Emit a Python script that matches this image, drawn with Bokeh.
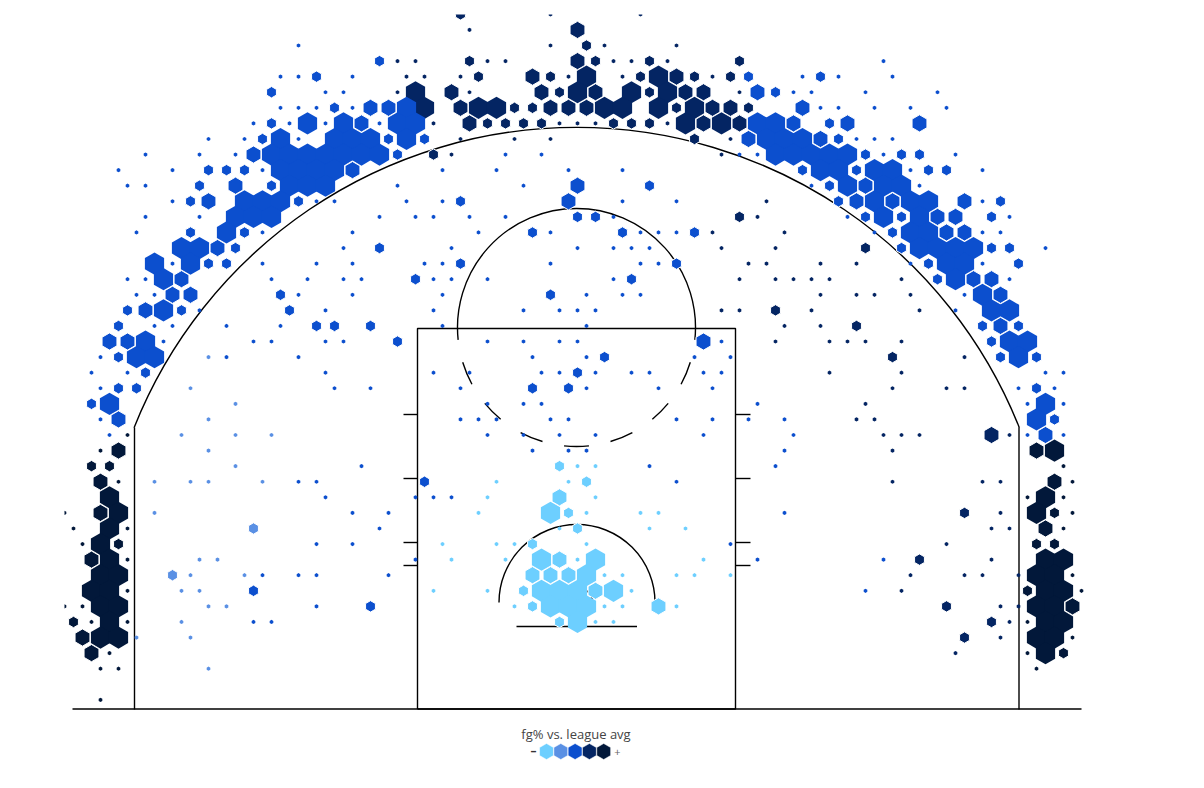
import math
from bokeh.plotting import figure
from bokeh.models import ColumnDataSource, Range1d
from bokeh.core.properties import value
from bokeh.embed import file_html
from bokeh.resources import INLINE

# ---- hex bins: (half-column from the basket, row from the top, size class 0..3)
lightest_bins = [
    (-2,27,1),(0,27,0),(2,27,0),
    (-9,28,0),(-1,28,0),(1,28,1),
    (-10,29,0),(-2,29,2),(2,29,0),
    (-11,30,0),(-3,30,3),(-1,30,1),(1,30,0),(7,30,0),(9,30,0),
    (-2,31,0),(0,31,1),(8,31,0),(12,31,0),
    (-15,32,0),(-9,32,0),(-7,32,0),(-5,32,1),(1,32,0),
    (-14,33,0),(-8,33,0),(-4,33,3),(-2,33,2),(0,33,0),(2,33,3),(14,33,0),
    (-5,34,2),(-3,34,2),(-1,34,2),(1,34,3),(3,34,0),(5,34,0),(11,34,0),(13,34,0),(17,34,0),
    (-16,35,0),(-10,35,0),(-6,35,1),(-4,35,3),(-2,35,3),(0,35,3),(2,35,2),(4,35,3),(6,35,0),
    (-7,36,0),(-5,36,1),(-3,36,3),(-1,36,3),(1,36,3),(3,36,0),(5,36,0),(9,36,2),(11,36,0),
    (-2,37,1),(0,37,3),(2,37,0),(4,37,0),
]
soft_blue_bins = [
    (-41,20,0),(-43,22,0),(-38,23,0),(-41,24,0),(-44,25,0),(-38,25,0),(-34,25,0),
    (-41,26,0),(-38,27,0),
    (-47,28,0),(-43,28,0),(-41,28,0),(-35,28,0),
    (-47,30,0),(-36,31,1),(-42,33,0),(-40,33,0),
    (-45,34,1),(-43,34,0),(-37,34,0),(-44,35,0),(-42,35,0),
    (-41,36,0),(-39,36,0),(-44,37,0),(-49,38,0),(-43,38,0),(-41,40,0),
]
blue_bins = [
    (-31,0,0),
    (-22,1,1),(34,1,0),
    (-33,2,0),(-31,2,0),(-29,2,1),(-25,2,0),(19,2,1),(25,2,0),(27,2,1),(29,2,0),(35,2,0),
    (-34,3,1),(-28,3,0),(-26,3,0),(20,3,2),(22,3,1),(24,3,0),(26,3,0),(32,3,0),(40,3,0),
    (-33,4,0),(-31,4,0),(-29,4,0),(-27,4,1),(-25,4,0),(-23,4,2),(-21,4,2),(-19,4,3),
    (25,4,2),(27,4,0),(29,4,0),(33,4,0),(37,4,0),(41,4,0),
    (-36,5,0),(-34,5,1),(-32,5,0),(-30,5,3),(-28,5,0),(-26,5,3),(-24,5,2),(-22,5,0),(-20,5,3),(-18,5,3),
    (20,5,3),(22,5,3),(24,5,2),(28,5,1),(30,5,2),(38,5,2),
    (-41,6,0),(-37,6,0),(-35,6,1),(-33,6,3),(-31,6,0),(-27,6,3),(-25,6,3),(-23,6,3),(-21,6,1),(-19,6,3),(-17,6,1),
    (19,6,2),(21,6,3),(23,6,3),(25,6,3),(27,6,2),(29,6,1),(31,6,0),(33,6,0),(35,6,0),
    (-48,7,0),(-42,7,0),(-38,7,0),(-36,7,2),(-34,7,3),(-32,7,3),(-30,7,3),(-28,7,3),(-26,7,3),(-24,7,3),(-22,7,3),(-20,7,1),
    (-8,7,0),(-4,7,0),(18,7,0),(20,7,0),(22,7,3),(24,7,3),(26,7,3),(28,7,3),(30,7,3),(32,7,1),(34,7,0),(36,7,1),(38,7,1),(42,7,0),
    (-51,8,0),(-45,8,0),(-41,8,1),(-39,8,1),(-37,8,1),(-35,8,0),(-33,8,3),(-31,8,3),(-29,8,3),(-27,8,3),(-25,8,2),
    (-15,8,0),(-9,8,0),(-1,8,0),(5,8,0),
    (25,8,1),(27,8,3),(29,8,3),(31,8,1),(33,8,3),(35,8,3),(37,8,0),(39,8,1),(41,8,1),(45,8,0),
    (-50,9,0),(-48,9,0),(-42,9,1),(-38,9,2),(-34,9,1),(-32,9,3),(-30,9,3),(-28,9,3),(-20,9,0),
    (-6,9,0),(0,9,2),(8,9,1),(26,9,0),(28,9,1),(30,9,3),(32,9,2),(34,9,3),(36,9,3),(38,9,0),
    (-45,10,0),(-43,10,1),(-41,10,2),(-37,10,3),(-35,10,3),(-33,10,3),(-31,10,1),(-29,10,0),(-27,10,0),(-19,10,0),
    (-15,10,0),(-13,10,1),(-1,10,2),(5,10,0),(11,10,0),
    (29,10,1),(31,10,2),(33,10,3),(35,10,2),(37,10,3),(39,10,3),(43,10,2),(45,10,0),(47,10,1),
    (-48,11,0),(-42,11,0),(-38,11,3),(-36,11,3),(-34,11,3),(-22,11,0),(-18,11,0),(-16,11,0),(-12,11,0),(-8,11,0),
    (0,11,1),(2,11,1),(4,11,0),(30,11,0),(32,11,1),(34,11,3),(36,11,1),(38,11,3),(40,11,2),(42,11,2),(46,11,1),(48,11,0),
    (-49,12,0),(-43,12,1),(-39,12,3),(-37,12,1),(-35,12,0),(-25,12,0),(-11,12,0),(-5,12,1),(-3,12,0),(5,12,1),(7,12,0),(9,12,0),(11,12,0),(13,12,1),
    (33,12,0),(35,12,1),(37,12,3),(39,12,3),(41,12,2),(43,12,2),(45,12,0),(47,12,0),
    (-44,13,3),(-42,13,3),(-40,13,2),(-38,13,1),(-26,13,0),(-22,13,1),(-14,13,0),(0,13,0),(4,13,0),(6,13,0),(8,13,0),
    (36,13,1),(38,13,3),(40,13,3),(42,13,3),(44,13,3),(46,13,1),(48,13,1),(52,13,0),
    (-47,14,3),(-45,14,0),(-43,14,3),(-41,14,1),(-39,14,1),(-35,14,0),(-29,14,0),(-25,14,0),(-17,14,0),(-15,14,0),(-13,14,1),(-3,14,0),(7,14,0),(9,14,0),(11,14,1),
    (37,14,0),(39,14,1),(41,14,3),(43,14,3),(45,14,0),(49,14,1),
    (-50,15,0),(-48,15,0),(-46,15,3),(-44,15,2),(-34,15,0),(-30,15,0),(-26,15,0),(-24,15,0),(-18,15,1),(-16,15,0),(-14,15,0),(-10,15,0),(4,15,0),(6,15,1),
    (40,15,1),(42,15,3),(44,15,2),(46,15,2),(48,15,0),
    (-49,16,0),(-47,16,0),(-45,16,2),(-43,16,2),(-33,16,1),(-31,16,0),(-25,16,0),(-15,16,0),(-3,16,1),(1,16,0),(5,16,0),(7,16,0),
    (43,16,0),(45,16,3),(47,16,2),
    (-50,17,1),(-48,17,2),(-46,17,3),(-44,17,1),(-42,17,0),(-32,17,1),(-28,17,0),(-16,17,0),(-6,17,0),(-2,17,0),(0,17,0),(2,17,0),
    (42,17,0),(46,17,3),(48,17,3),
    (-51,18,1),(-47,18,0),(-45,18,0),(-39,18,0),(-33,18,0),(-29,18,1),(-27,18,1),(-23,18,1),(-15,18,0),(1,18,0),
    (45,18,1),(47,18,2),(49,18,1),
    (-52,19,2),(-50,19,2),(-48,19,3),(-46,19,0),(-36,19,0),(-34,19,0),(-28,19,0),(-26,19,0),(-20,19,1),(-10,19,0),(-6,19,0),(-2,19,0),(0,19,0),(14,19,2),(16,19,0),
    (46,19,1),(48,19,3),(50,19,3),
    (-53,20,0),(-51,20,1),(-49,20,3),(-47,20,3),(-39,20,0),(-31,20,0),(-5,20,0),(1,20,0),(3,20,1),(13,20,0),(17,20,0),(47,20,1),(49,20,3),(51,20,1),
    (-54,21,0),(-50,21,0),(-48,21,1),(-28,21,0),(-16,21,0),(-12,21,0),(-4,21,0),(-2,21,0),(0,21,1),(2,21,0),(6,21,0),(8,21,0),(14,21,0),(16,21,0),(52,21,0),(54,21,0),
    (-53,22,0),(-51,22,1),(-49,22,1),(-27,22,0),(-23,22,0),(-13,22,0),(-5,22,1),(-1,22,1),(1,22,0),(9,22,0),(15,22,0),(49,22,0),(51,22,1),(53,22,0),
    (-54,23,1),(-52,23,3),(-10,23,0),(-6,23,0),(-4,23,0),(20,23,0),(50,23,0),(52,23,3),(54,23,0),
    (-53,24,0),(-51,24,2),(-13,24,0),(-11,24,0),(-9,24,0),(-3,24,0),(-1,24,0),(11,24,0),(15,24,0),(19,24,0),(23,24,0),(51,24,3),(53,24,1),
    (-52,25,0),(-10,25,0),(-6,25,0),(-2,25,0),(2,25,0),(14,25,0),(24,25,0),(50,25,0),(52,25,2),(54,25,0),
    (-5,26,0),(-1,26,0),(1,26,0),(23,26,0),
    (-24,27,0),(8,27,0),(22,27,0),
    (-31,28,0),(-29,28,0),(-17,28,1),(11,28,0),
    (-28,29,0),(-18,29,0),(-16,29,0),(-14,29,0),
    (-25,30,0),(-21,30,0),(23,30,0),
    (-22,31,0),
    (-29,32,0),(-25,32,0),(17,32,0),
    (-18,33,0),(20,33,0),(34,33,0),
    (-35,34,0),(-31,34,0),(-29,34,0),(-21,34,0),
    (-36,35,1),(32,35,0),
    (-29,36,0),(-23,36,1),
    (-36,37,0),(-34,37,0),
]
navy_bins = [
    (-13,-2,1),(-3,-2,0),(7,-2,0),
    (-12,-1,0),(0,-1,2),
    (-3,0,0),(1,0,1),(3,0,0),(11,0,0),
    (-20,1,0),(-18,1,0),(-12,1,1),(-10,1,0),(-8,1,0),(0,1,2),(2,1,1),(4,1,0),(6,1,0),(8,1,1),(10,1,0),(18,1,1),
    (-19,2,0),(-17,2,0),(-13,2,0),(-11,2,1),(-5,2,2),(-3,2,1),(-1,2,0),(1,2,3),(5,2,0),(7,2,1),(9,2,3),(11,2,2),(13,2,1),(15,2,0),(17,2,1),
    (-20,3,0),(-18,3,3),(-14,3,2),(-12,3,0),(-4,3,2),(-2,3,1),(0,3,3),(2,3,2),(6,3,3),(8,3,1),(10,3,3),(12,3,2),(14,3,2),(18,3,0),
    (-17,4,3),(-13,4,2),(-11,4,3),(-9,4,3),(-7,4,1),(-5,4,1),(-3,4,2),(-1,4,2),(1,4,2),(3,4,3),(5,4,3),(9,4,3),(11,4,1),(13,4,3),(15,4,2),(17,4,2),(19,4,1),
    (-16,5,0),(-12,5,2),(-10,5,1),(-8,5,1),(-6,5,1),(-4,5,1),(-2,5,0),(0,5,0),(2,5,0),(4,5,1),(6,5,1),(8,5,1),(10,5,0),(12,5,3),(14,5,2),(16,5,3),(18,5,2),
    (-13,6,0),(-7,6,0),(-3,6,0),(13,6,1),(17,6,0),
    (-16,7,1),(-14,7,0),(16,7,0),
    (21,10,0),(18,11,1),(20,11,0),(15,12,0),(23,12,0),
    (16,13,0),(22,13,0),(32,13,1),
    (19,14,0),(21,14,0),(27,14,0),(31,14,0),
    (18,15,0),(22,15,0),(24,15,0),(26,15,0),(28,15,0),(36,15,0),
    (27,16,0),(31,16,0),(33,16,0),(37,16,0),
    (16,17,0),(18,17,0),(22,17,1),(26,17,0),(38,17,0),
    (23,18,0),(27,18,0),(31,18,1),
    (22,19,0),(28,19,0),(30,19,0),(32,19,0),(36,19,0),
    (35,20,1),(43,20,0),
    (28,21,0),(36,21,0),
    (35,22,0),(41,22,0),(43,22,0),
    (32,23,0),(31,24,0),(33,24,0),
    (34,25,0),(36,25,0),(38,25,0),(46,25,2),(48,25,0),
    (35,26,0),(35,28,0),(45,28,0),(47,28,0),
    (43,30,1),(47,30,0),(46,31,0),(48,31,0),(41,32,0),
    (38,33,1),(46,33,0),(37,34,0),(43,34,0),(45,34,0),(49,34,0),
    (36,35,0),(41,36,1),(47,36,0),(49,36,0),
    (46,37,1),(48,37,0),(43,38,1),(47,38,0),(42,39,0),
]
darkest_bins = [
    (-50,25,0),(-53,26,0),(-51,26,2),(-54,27,1),(-52,27,1),
    (-53,28,2),(-51,28,0),(-52,29,3),
    (-57,30,0),(-53,30,2),(-51,30,3),
    (-56,31,0),(-52,31,3),(-50,31,0),
    (-55,32,0),(-53,32,3),(-51,32,1),
    (-54,33,2),(-52,33,3),(-50,33,0),
    (-53,34,3),(-51,34,3),
    (-54,35,3),(-52,35,3),(-50,35,0),
    (-57,36,0),(-55,36,0),(-53,36,3),(-51,36,3),
    (-56,37,1),(-54,37,0),(-52,37,3),(-50,37,0),
    (-55,38,2),(-53,38,3),(-51,38,3),
    (-54,39,2),(-52,39,0),(-53,40,0),(-51,40,0),(-53,42,0),
    (51,26,2),(53,26,3),(54,27,0),(53,28,2),(55,28,0),
    (50,29,0),(52,29,3),(54,29,0),
    (51,30,3),(53,30,1),(55,30,0),
    (52,31,2),(54,31,0),(51,32,1),(53,32,1),
    (52,33,3),(54,33,3),(51,34,3),(53,34,3),(55,34,0),
    (50,35,1),(52,35,3),(54,35,3),(56,35,0),
    (51,36,3),(53,36,3),(55,36,2),
    (50,37,0),(52,37,3),(54,37,3),
    (51,38,3),(53,38,3),(55,38,0),
    (50,39,0),(52,39,3),(54,39,1),(51,40,0),
]
legend_title = "fg% vs. league avg"
legend_low = "–"
legend_high = "+"

# ---- court geometry, in court units (half a screen pixel each)
baseline = ([-252.5, 252.0], [0.25, 0.25])
corner_lines = [([-221.5, -221.5], [0, 141]), ([220.75, 220.75], [0, 141])]
key_box = ([-80, -80, 79, 79, -80], [0.25, 190.5, 190.5, 0.25, 0.25])
lane_ticks = [147.5, 115.5, 83.5, 72.0]
backboard = ([-30.5, 29.75], [41.5, 41.5])
free_throw_dashes = [(197, 208.5), (219.6, 230.4), (242, 253.4), (264, 276),
                     (286.6, 298), (309.6, 320.4), (331.5, 343)]

level_colors = ["#6DCFFF", "#5A90E4", "#0C4FCE", "#042563", "#02183A"]
X_STEP, Y_STEP, Y_TOP = 4.5, 7.79, 332.0
radius_by_size = [1.05, 2.85, 4.3, 5.55]

all_levels = [lightest_bins, soft_blue_bins, blue_bins, navy_bins, darkest_bins]


def hexagon(cx, cy, r):
    angles = [math.pi / 6 + i * math.pi / 3 for i in range(6)]
    return [cx + r * math.cos(a) for a in angles], [cy + r * math.sin(a) for a in angles]


rows = []
for level, bins in enumerate(all_levels):
    for c, n, s in bins:
        rows.append((level, c * X_STEP, Y_TOP - n * Y_STEP, s))
# largest first, so that the smaller outlined bins sit on top; blue over navy
level_order = {4: 0, 3: 1, 2: 2, 1: 3, 0: 4}
rows.sort(key=lambda r: (-r[3], level_order[r[0]]))

xs, ys, fills, line_alpha = [], [], [], []
for level, x, y, s in rows:
    hx, hy = hexagon(x, y, radius_by_size[s])
    xs.append(hx)
    ys.append(hy)
    fills.append(level_colors[level])
    line_alpha.append(1.0 if s in (1, 2) else 0.0)

p = figure(width=1188, height=770, output_backend="svg", toolbar_location=None,
           x_range=Range1d(-256.5, 254.0), y_range=Range1d(-30.5, 347.5),
           min_border_left=64, min_border_right=103, min_border_top=14, min_border_bottom=0,
           background_fill_color="white", border_fill_color="white")
p.axis.visible = False
p.grid.visible = False
p.outline_line_color = None

LINE = dict(line_color="black", line_width=1.4)
seg_x = [baseline[0], key_box[0], backboard[0]] + [c[0] for c in corner_lines]
seg_y = [baseline[1], key_box[1], backboard[1]] + [c[1] for c in corner_lines]
for t in lane_ticks:
    seg_x += [[-87, -80], [79, 86.5]]
    seg_y += [[t, t], [t, t]]
p.multi_line(seg_x, seg_y, **LINE)
d = math.radians
p.arc(x=[-0.4], y=[52.85], radius=238.2, start_angle=d(21.7), end_angle=d(158.3), **LINE)
p.arc(x=[-0.25], y=[53.5], radius=39.0, start_angle=0, end_angle=math.pi, **LINE)
p.arc(x=[-0.5], y=[191.0], radius=59.5, start_angle=d(-6), end_angle=d(186), **LINE)
for a, b in free_throw_dashes:
    p.arc(x=[-0.5], y=[191.0], radius=59.5, start_angle=d(a), end_angle=d(b), **LINE)
p.circle(x=[0], y=[53.5], radius=7.5, fill_color=None, **LINE)

src = ColumnDataSource(dict(xs=xs, ys=ys, fill=fills, la=line_alpha))
p.patches("xs", "ys", source=src, fill_color="fill", line_color="white", line_alpha="la", line_width=1)

# legend
lx = [-15.5 + i * 7.15 for i in range(len(level_colors))]
lxs, lys = zip(*[hexagon(x, -21.0, 4.0) for x in lx])
p.patches(list(lxs), list(lys), fill_color=level_colors, line_color="white", line_width=0.5)
p.text([-0.75], [-12.0], text=[legend_title], text_font=value("Open Sans"), text_font_size="13px",
       text_color="#444444", text_align="center", text_baseline="middle")
p.text([-22], [-20.5], text=[legend_low], text_font=value("Open Sans"), text_font_size="12px",
       text_color="#333333", text_align="center", text_baseline="middle", text_font_style="bold")
p.text([20], [-21], text=[legend_high], text_font=value("Open Sans"), text_font_size="11px",
       text_color="#666666", text_align="center", text_baseline="middle")

open("out.html", "w").write(file_html(p, INLINE))
